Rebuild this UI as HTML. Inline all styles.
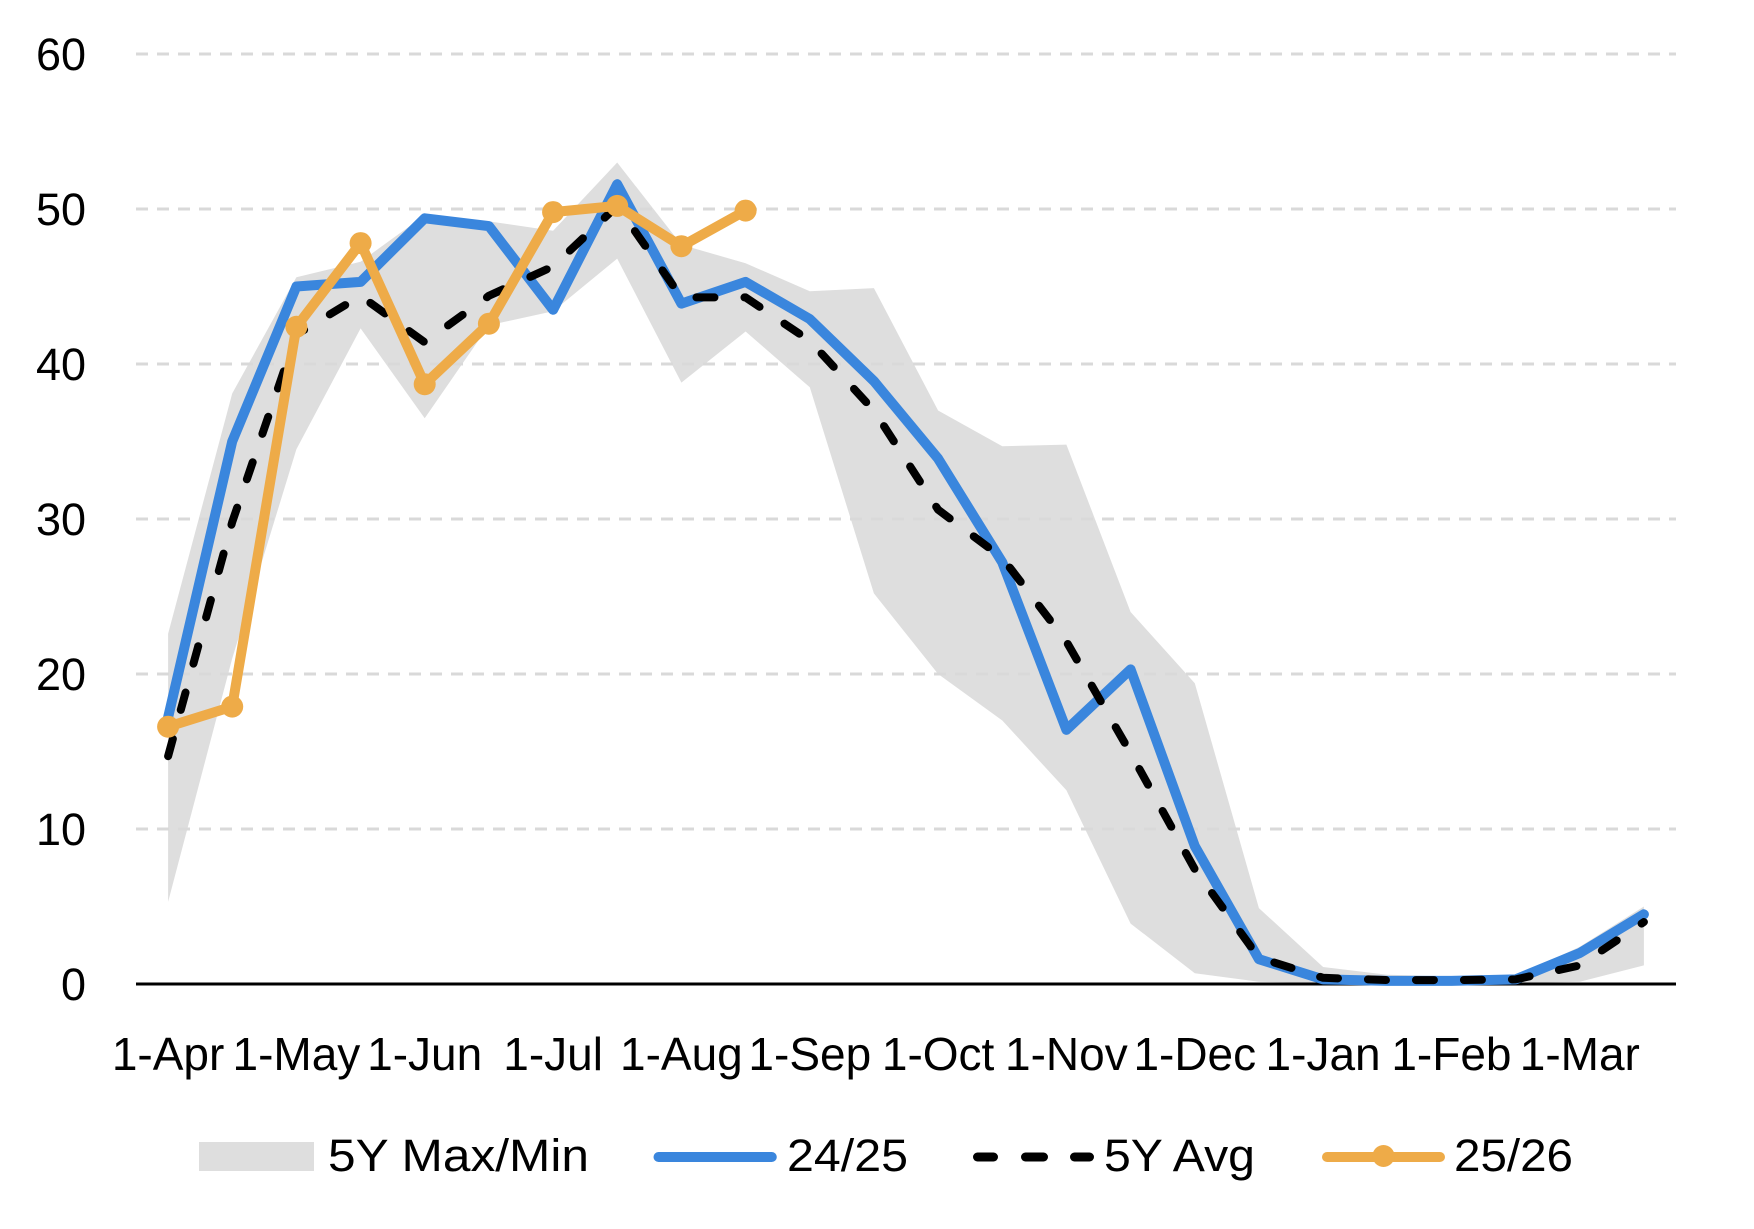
<!DOCTYPE html>
<html>
<head>
<meta charset="utf-8">
<style>
  html, body { margin: 0; padding: 0; background: #ffffff; }
  svg { display: block; }
  text { font-family: "Liberation Sans", Arial, sans-serif; fill: #000; }
</style>
</head>
<body>
<svg width="1754" height="1229" viewBox="0 0 1754 1229" xmlns="http://www.w3.org/2000/svg">
  <rect width="1754" height="1229" fill="#ffffff"/>

  <!-- 5Y Max/Min band -->
  <polygon fill="#dedede" points="
    168.1,633.7 232.2,393.5 296.4,277.2 360.6,261.7 424.7,215.2 488.9,221.4 553.1,230.7 617.2,162.5
    681.4,244.7 745.6,263.3 809.8,291.2 873.9,288.1 938.1,410.5 1002.3,446.2 1066.4,444.6 1130.6,612
    1194.8,683.3 1258.9,908.1 1323.1,967 1387.3,974.7 1451.4,976.3 1515.6,976.3 1579.8,946.8 1643.9,906.5
    1643.9,965.4 1579.8,981.7 1515.6,983.2 1451.4,984 1387.3,984 1323.1,983.2 1258.9,981.7 1194.8,973.2
    1130.6,923.6 1066.4,790.3 1002.3,720.5 938.1,674 873.9,593.4 809.8,387.3 745.6,331.5 681.4,382.6
    617.2,258.6 553.1,311.3 488.9,325.3 424.7,418.3 360.6,328.4 296.4,449.3 232.2,658.5 168.1,901.9"/>

  <!-- gridlines -->
  <g stroke="#d9d9d9" stroke-width="3" stroke-dasharray="12 9">
    <line x1="136" y1="54" x2="1676" y2="54"/>
    <line x1="136" y1="209" x2="1676" y2="209"/>
    <line x1="136" y1="364" x2="1676" y2="364"/>
    <line x1="136" y1="519" x2="1676" y2="519"/>
    <line x1="136" y1="674" x2="1676" y2="674"/>
    <line x1="136" y1="829" x2="1676" y2="829"/>
  </g>
  <!-- x axis -->
  <line x1="136" y1="984" x2="1676" y2="984" stroke="#000" stroke-width="3"/>

  <!-- y labels -->
  <g font-size="45" text-anchor="end">
    <text x="86" y="70">60</text>
    <text x="86" y="225">50</text>
    <text x="86" y="380">40</text>
    <text x="86" y="535">30</text>
    <text x="86" y="690">20</text>
    <text x="86" y="845">10</text>
    <text x="86" y="1000">0</text>
  </g>

  <!-- x labels -->
  <g font-size="46" text-anchor="middle">
    <text x="168.1" y="1070">1-Apr</text>
    <text x="296.4" y="1070">1-May</text>
    <text x="424.7" y="1070">1-Jun</text>
    <text x="553.1" y="1070">1-Jul</text>
    <text x="681.4" y="1070">1-Aug</text>
    <text x="809.8" y="1070">1-Sep</text>
    <text x="938.1" y="1070">1-Oct</text>
    <text x="1066.4" y="1070">1-Nov</text>
    <text x="1194.8" y="1070">1-Dec</text>
    <text x="1323.1" y="1070">1-Jan</text>
    <text x="1451.4" y="1070">1-Feb</text>
    <text x="1579.8" y="1070">1-Mar</text>
  </g>

  <!-- 24/25 blue -->
  <polyline fill="none" stroke="#3a86dd" stroke-width="10" stroke-linejoin="round" stroke-linecap="round" points="
    168.1,717.4 232.2,441.5 296.4,286.5 360.6,281.9 424.7,218.3 488.9,226.1 553.1,309.8 617.2,184.2
    681.4,303.6 745.6,281.9 809.8,319.1 873.9,381.1 938.1,458.6 1002.3,562.4 1066.4,729.8 1130.6,669.4
    1194.8,846.1 1258.9,959.2 1323.1,979.4 1387.3,980.9 1451.4,980.9 1515.6,979.4 1579.8,953 1643.9,914.3"/>

  <!-- 5Y Avg dashed -->
  <polyline fill="none" stroke="#000" stroke-width="8" stroke-linejoin="round" stroke-linecap="round" stroke-dasharray="18 30" points="
    168.1,756.2 232.2,522.1 296.4,334.5 360.6,295.8 424.7,342.3 488.9,295.8 553.1,266.4 617.2,205.9
    681.4,297.4 745.6,297.4 809.8,340.8 873.9,410.5 938.1,509.7 1002.3,557.8 1066.4,641.5 1130.6,753.1
    1194.8,869.3 1258.9,957.7 1323.1,977.8 1387.3,980.1 1451.4,980.1 1515.6,979.4 1579.8,965.4 1643.9,922"/>

  <!-- 25/26 orange -->
  <polyline fill="none" stroke="#eeab48" stroke-width="10" stroke-linejoin="round" stroke-linecap="round" points="
    168.1,726.7 232.2,706.6 296.4,326.8 360.6,243.1 424.7,384.2 488.9,323.7 553.1,212.1 617.2,205.9 681.4,246.2 745.6,210.6"/>
  <g fill="#eeab48">
    <circle cx="168.1" cy="726.7" r="11"/>
    <circle cx="232.2" cy="706.6" r="11"/>
    <circle cx="296.4" cy="326.8" r="11"/>
    <circle cx="360.6" cy="243.1" r="11"/>
    <circle cx="424.7" cy="384.2" r="11"/>
    <circle cx="488.9" cy="323.7" r="11"/>
    <circle cx="553.1" cy="212.1" r="11"/>
    <circle cx="617.2" cy="205.9" r="11"/>
    <circle cx="681.4" cy="246.2" r="11"/>
    <circle cx="745.6" cy="210.6" r="11"/>
  </g>

  <!-- legend -->
  <rect x="199" y="1142" width="115" height="29" fill="#dedede"/>
  <text x="328" y="1171" font-size="45" textLength="261" lengthAdjust="spacingAndGlyphs">5Y Max/Min</text>

  <line x1="658.5" y1="1157" x2="771.8" y2="1157" stroke="#3a86dd" stroke-width="10" stroke-linecap="round"/>
  <text x="787" y="1171" font-size="45" textLength="121" lengthAdjust="spacingAndGlyphs">24/25</text>

  <g stroke="#000" stroke-width="9" stroke-linecap="round">
    <line x1="977.5" y1="1157" x2="993.5" y2="1157"/>
    <line x1="1025.5" y1="1157" x2="1043.5" y2="1157"/>
    <line x1="1074.5" y1="1157" x2="1089.5" y2="1157"/>
  </g>
  <text x="1104" y="1171" font-size="45" textLength="151" lengthAdjust="spacingAndGlyphs">5Y Avg</text>

  <line x1="1327" y1="1157" x2="1440" y2="1157" stroke="#eeab48" stroke-width="10" stroke-linecap="round"/>
  <circle cx="1383.5" cy="1156" r="11" fill="#eeab48"/>
  <text x="1454" y="1171" font-size="45" textLength="119" lengthAdjust="spacingAndGlyphs">25/26</text>
</svg>
</body>
</html>
